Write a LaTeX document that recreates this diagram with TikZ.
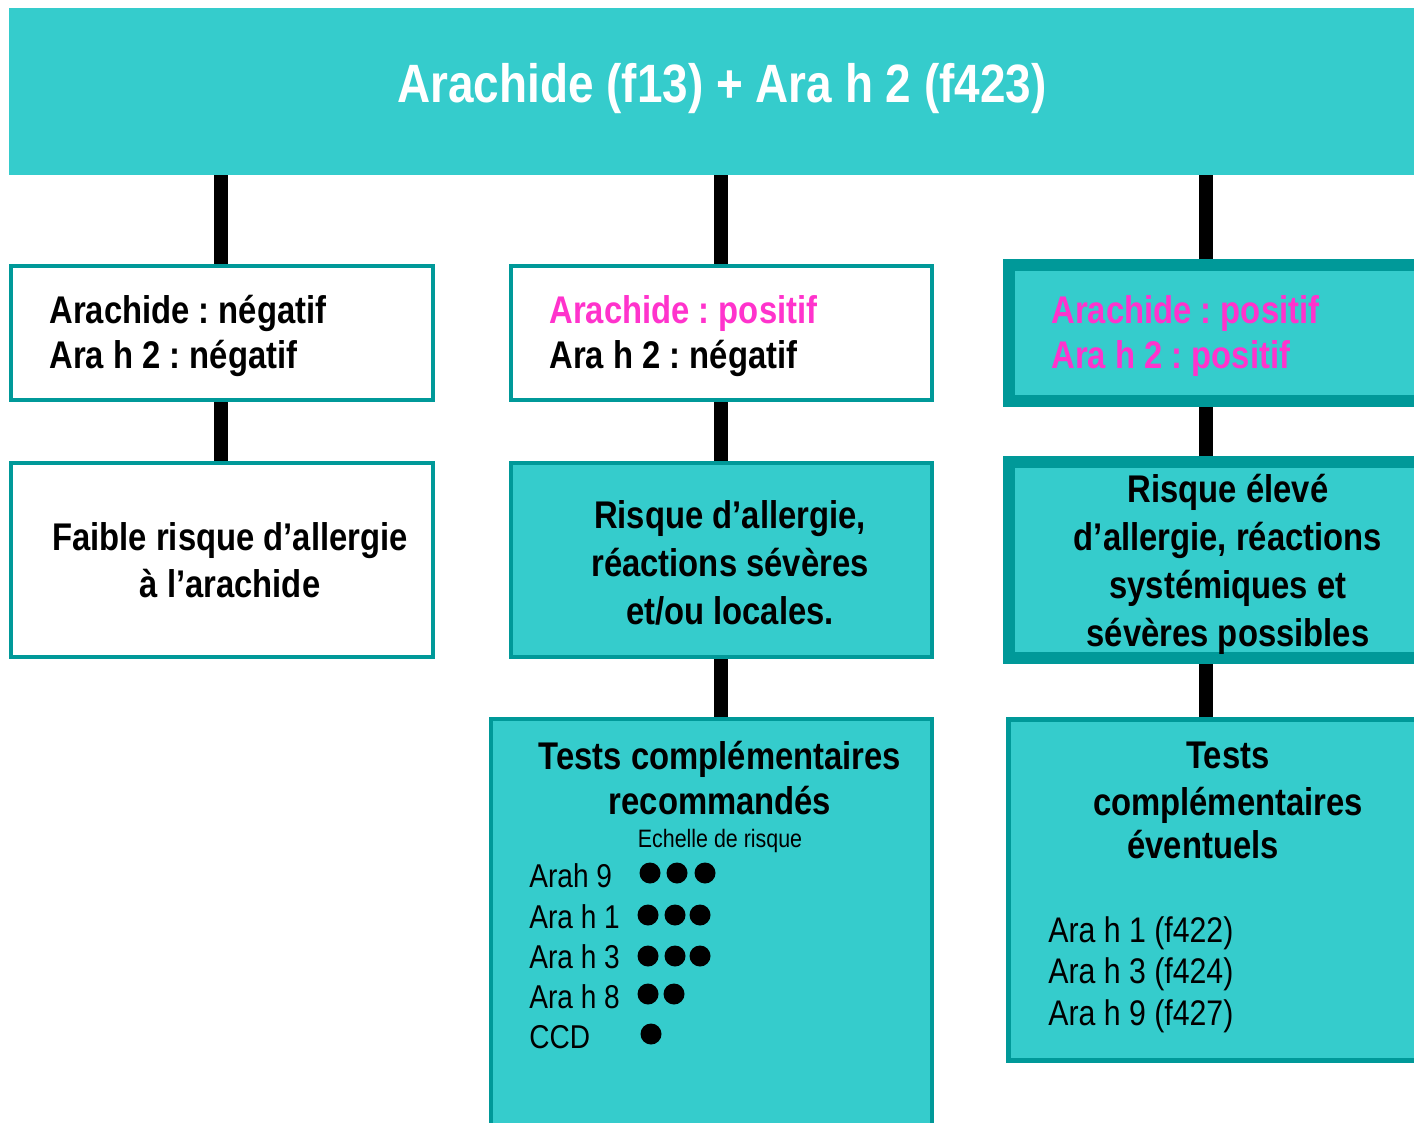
\documentclass[tikz,border=0pt]{standalone}
\usepackage{fontspec}
\setmainfont{Liberation Sans}[FakeStretch=0.85]
\usetikzlibrary{backgrounds}
\definecolor{tealL}{HTML}{35CCCC}
\definecolor{tealD}{HTML}{009999}
\definecolor{pinkT}{HTML}{FF33CC}
\frenchspacing
\tikzset{
  thinbox/.style={draw=tealD, line width=2pt, inner sep=0pt, outer sep=0pt},
  thickbox/.style={draw=tealD, line width=6pt, fill=tealL, inner sep=0pt, outer sep=0pt},
  conn/.style={line width=7pt, black},
  btxt/.style={inner sep=0pt, font=\fontsize{19.3pt}{22.5pt}\selectfont\bfseries},
  ctxt/.style={inner sep=0pt, align=center, font=\fontsize{19.3pt}{24pt}\selectfont\bfseries},
  ltxt/.style={inner sep=0pt, anchor=base west, font=\fontsize{16.5pt}{20pt}\selectfont},
  dot/.style={fill=black}
}
\begin{document}
\begin{tikzpicture}[x=0.5pt,y=-0.5pt]
\useasboundingbox (0,0) rectangle (1414,1123);
% boxes
\node[fill=tealL, inner sep=0pt, minimum width=705.5pt, minimum height=83.5pt] (top) at (714.5,91.5) {};
\node[thinbox, fill=white, minimum width=211pt, minimum height=67pt] (L1) at (222,333) {};
\node[thinbox, fill=white, minimum width=210.5pt, minimum height=67pt] (M1) at (721.5,333) {};
\node[thickbox, minimum width=212.5pt, minimum height=68pt] (R1) at (1221.5,333) {};
\node[thinbox, fill=white, minimum width=211pt, minimum height=97pt] (L2) at (222,560) {};
\node[thinbox, fill=tealL, minimum width=210.5pt, minimum height=97pt] (M2) at (721.5,560) {};
\node[thickbox, minimum width=212.5pt, minimum height=98pt] (R2) at (1221.5,560) {};
\node[thinbox, fill=tealL, minimum width=220.5pt, minimum height=209.5pt] (M3) at (711.5,928.5) {};
\node[thinbox, line width=2.5pt, fill=tealL, minimum width=214.5pt, minimum height=170.5pt] (R3) at (1223,890) {};
% connectors
\coordinate (cL) at (221,0);
\coordinate (cM) at (721,0);
\coordinate (cR) at (1206,0);
\begin{scope}[on background layer]
\fill[white] (0,0) rectangle (1414,1123);
\draw[conn] (top.south -| cL) -- (L1.north -| cL);
\draw[conn] (L1.south -| cL) -- (L2.north -| cL);
\draw[conn] (top.south -| cM) -- (M1.north -| cM);
\draw[conn] (M1.south -| cM) -- (M2.north -| cM);
\draw[conn] (M2.south -| cM) -- (M3.north -| cM);
\draw[conn] (top.south -| cR) -- (R1.north -| cR);
\draw[conn] (R1.south -| cR) -- (R2.north -| cR);
\draw[conn] (R2.south -| cR) -- (R3.north -| cR);
\end{scope}
% texts
\node[inner sep=0pt, anchor=base, text=white, font=\fontsize{27pt}{30pt}\selectfont\bfseries] (title) at (722,103) {Arachide (f13) + Ara h 2 (f423)};
\node[btxt, anchor=base west, align=left] (L1t) at (49,369) {Arachide : négatif\\Ara h 2 : négatif};
\node[btxt, anchor=base west, align=left] (M1t) at (549,369) {\textcolor{pinkT}{Arachide : positif}\\Ara h 2 : négatif};
\node[btxt, anchor=base west, align=left, text=pinkT] (R1t) at (1051,369) {Arachide : positif\\Ara h 2 : positif};
\node[ctxt, anchor=base, font=\fontsize{19.3pt}{23.5pt}\selectfont\bfseries] (L2t) at (230,597) {Faible risque d’allergie\\à l’arachide};
\node[ctxt, anchor=base] (M2t) at (730,624) {Risque d’allergie,\\réactions sévères\\et/ou locales.};
\node[ctxt, anchor=base] (R2t) at (1228,646) {Risque élevé\\d’allergie, réactions\\systémiques et\\sévères possibles};
\node[ctxt, anchor=base, font=\fontsize{19.3pt}{22.5pt}\selectfont\bfseries] (M3t) at (720,814) {Tests complémentaires\\recommandés};
\node[inner sep=0pt, anchor=base, font=\fontsize{12.6pt}{14pt}\selectfont] (ech) at (720,847) {Echelle de risque};
\node[ltxt] (a9) at (529,887) {Arah 9};
\node[ltxt] (a1) at (529,928) {Ara h 1};
\node[ltxt] (a3) at (529,968) {Ara h 3};
\node[ltxt] (a8) at (529,1008) {Ara h 8};
\node[ltxt] (ccd) at (529,1048) {CCD};
\foreach \x in {650,677,705} \fill[dot] (\x,873) circle[radius=5.25pt];
\foreach \x in {648,675,700} \fill[dot] (\x,915) circle[radius=5.25pt];
\foreach \x in {648,675,700} \fill[dot] (\x,956) circle[radius=5.25pt];
\foreach \x in {648,674} \fill[dot] (\x,994) circle[radius=5.25pt];
\fill[dot] (651,1034) circle[radius=5.25pt];
\node[btxt, anchor=base] (R3a) at (1228,768) {Tests};
\node[btxt, anchor=base] (R3b) at (1228,815) {complémentaires};
\node[btxt, anchor=base] (R3c) at (1203,858) {éventuels};
\node[ltxt, font=\fontsize{17.8pt}{20.75pt}\selectfont, align=left] (R3l) at (1048,1025) {Ara h 1 (f422)\\Ara h 3 (f424)\\Ara h 9 (f427)};
\end{tikzpicture}
\end{document}
